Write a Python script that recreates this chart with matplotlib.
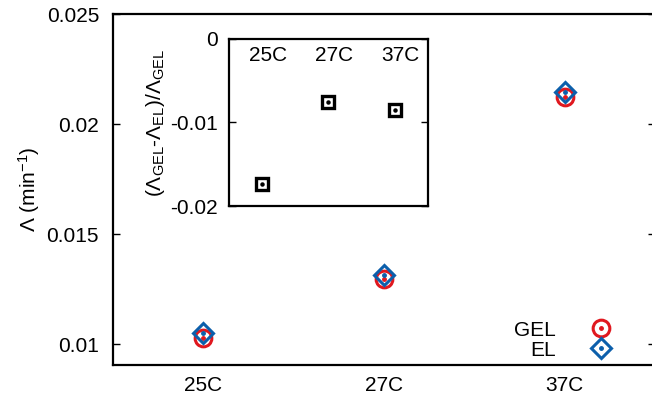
import numpy as np
import matplotlib
matplotlib.use("Agg")
import matplotlib.pyplot as plt
from matplotlib.legend_handler import HandlerTuple

plt.rcParams['font.family'] = ['Liberation Sans', 'DejaVu Sans']
plt.rcParams['mathtext.fontset'] = 'custom'
plt.rcParams['mathtext.rm'] = 'Liberation Sans'
plt.rcParams['mathtext.it'] = 'Liberation Sans'
plt.rcParams['font.size'] = 15

# data
temps = ['25C', '27C', '37C']
gel = [0.01027, 0.01295, 0.02122]
el = [0.01050, 0.01313, 0.02145]
rel_diff = [-0.01738, -0.0075, -0.00845]

red = '#e0181f'
blue = '#0c5fab'

fig = plt.figure(figsize=(6.52, 3.99), dpi=100)
ax = fig.add_axes([0.1733, 0.0852, 0.8313, 0.8797])
x = np.arange(len(temps))

l_gel, = ax.plot(x, gel, 'o', ms=12, mfc='none', mec=red, mew=2.2, ls='none')
d_gel, = ax.plot(x, gel, 'o', ms=2.5, color=red, ls='none')
l_el, = ax.plot(x, el, 'D', ms=10.5, mfc='none', mec=blue, mew=2.2, ls='none')
d_el, = ax.plot(x, el, 'o', ms=2.5, color=blue, ls='none')

ax.set_xlim(-0.5, 2.5)
ax.set_ylim(0.00905, 0.025)
ax.set_xticks(x)
ax.set_xticklabels(temps)
ax.set_yticks([0.01, 0.015, 0.02, 0.025])
ax.set_yticklabels(['0.01', '0.015', '0.02', '0.025'])
ax.tick_params(axis='x', length=0, pad=8)
ax.tick_params(axis='y', direction='in', length=5, width=1, right=True, pad=10)
for s in ax.spines.values():
    s.set_linewidth(1.6)
ax.set_ylabel(r'$\Lambda$ (min$^{-1}$)', labelpad=3)

ax.legend([(l_gel, d_gel), (l_el, d_el)], ['GEL', 'EL'],
          handler_map={tuple: HandlerTuple(ndivide=1)},
          loc='lower right', bbox_to_anchor=(0.92, 0.015),
          markerfirst=False, frameon=False, handlelength=1.0,
          handletextpad=1.7, labelspacing=0.05, borderpad=0, borderaxespad=0)

# inset
ins = fig.add_axes([0.3512, 0.4837, 0.3052, 0.4186])
xi = np.arange(len(temps))
ins.plot(xi, rel_diff, 's', ms=9, mfc='none', mec='black', mew=2.4, ls='none')
ins.plot(xi, rel_diff, 'o', ms=2.2, color='black', ls='none')
ins.set_xlim(-0.5, 2.5)
ins.set_ylim(-0.02, 0)
ins.set_xticks([])
ins.set_yticks([-0.02, -0.01, 0])
ins.set_yticklabels(['-0.02', '-0.01', '0'])
ins.tick_params(axis='y', direction='in', length=5, width=1, right=True, pad=8)
for s in ins.spines.values():
    s.set_linewidth(1.6)
for xx, t in zip(xi, temps):
    ins.text(xx + 0.09, 0.9, t, transform=ins.get_xaxis_transform(),
             ha='center', va='center')
ins.set_ylabel(r'$(\Lambda_{\mathregular{GEL}}$-$\Lambda_{\mathregular{EL}})/\Lambda_{\mathregular{GEL}}$',
               labelpad=2)

fig.savefig('out.png', dpi=100)
